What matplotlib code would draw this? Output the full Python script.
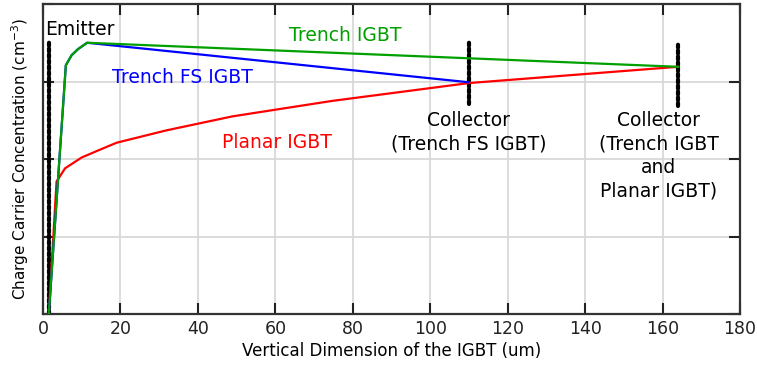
import matplotlib
matplotlib.use("Agg")
import matplotlib.pyplot as plt
import numpy as np

# dados (y em unidades arbitrarias, eixo sem rotulos)
x_trench = [1.5, 5.9, 7.4, 9.1, 11.4, 164]
y_trench = [0.0, 3.21, 3.34, 3.42, 3.50, 3.19]

x_fs = [1.5, 5.9, 7.4, 9.1, 11.4, 110]
y_fs = [0.0, 3.21, 3.34, 3.42, 3.50, 2.99]

x_planar = [1.5, 3.5, 5.7, 10.0, 14.7, 19.0, 31.9, 48.9, 59.2, 74.7, 110, 164]
y_planar = [0.0, 1.71, 1.88, 2.02, 2.12, 2.21, 2.37, 2.55, 2.63, 2.75, 2.98, 3.19]

# linhas pontilhadas (emissor / coletores)
marcas_x = [1.5, 110, 164]
marcas_y0 = [0.0, 2.71, 2.68]
marcas_y1 = [3.53, 3.51, 3.48]

xticks = np.arange(0, 181, 20)
yticks = [0, 1, 2, 3, 4]

fig = plt.figure(figsize=(7.57, 3.65), dpi=100)
ax = fig.add_axes([0.0568, 0.1397, 0.9207, 0.8493])

ax.grid(True, color="#d9d9d9", linewidth=1.3, zorder=0)
ax.set_axisbelow(True)

for xm, y0, y1 in zip(marcas_x, marcas_y0, marcas_y1):
	ax.plot([xm, xm], [y0, y1], color="black", linestyle=(0, (0.7, 0.7)),
			linewidth=3.0, dash_capstyle="round", zorder=2)

ax.plot(x_planar, y_planar, color="#ff0000", linewidth=1.6, zorder=3)
ax.plot(x_fs, y_fs, color="#0000ff", linewidth=1.6, zorder=3)
ax.plot(x_trench, y_trench, color="#00a000", linewidth=1.6, zorder=4)

fs = 13.5
ax.text(0.6, 3.55, "Emitter", fontsize=fs, color="black", ha="left", va="bottom")
ax.text(78, 3.47, "Trench IGBT", fontsize=fs, color="#00a000", ha="center", va="bottom")
ax.text(36, 2.93, "Trench FS IGBT", fontsize=fs, color="#0000ff", ha="center", va="bottom")
ax.text(60.5, 2.09, "Planar IGBT", fontsize=fs, color="#ff0000", ha="center", va="bottom")
ax.text(110, 2.62, "Collector\n(Trench FS IGBT)", fontsize=fs, color="black",
		ha="center", va="top", linespacing=1.3)
ax.text(159, 2.62, "Collector\n(Trench IGBT\nand\nPlanar IGBT)", fontsize=fs,
		color="black", ha="center", va="top", linespacing=1.3)

ax.set_xlim(0, 180)
ax.set_ylim(0, 4)
ax.set_xticks(xticks)
ax.set_yticks(yticks)
ax.set_yticklabels([])
ax.tick_params(direction="in", length=8, width=1.5, top=True, right=True,
			   labelsize=12.5, colors="#222222")
ax.tick_params(axis="x", pad=4)
for s in ax.spines.values():
	s.set_linewidth(1.6)
	s.set_color("#333333")

ax.set_xlabel("Vertical Dimension of the IGBT (um)", fontsize=12, labelpad=3)
ax.set_ylabel("Charge Carrier Concentration (cm$^{-3}$)", fontsize=11, labelpad=5)

plt.savefig("out.png", dpi=100)
